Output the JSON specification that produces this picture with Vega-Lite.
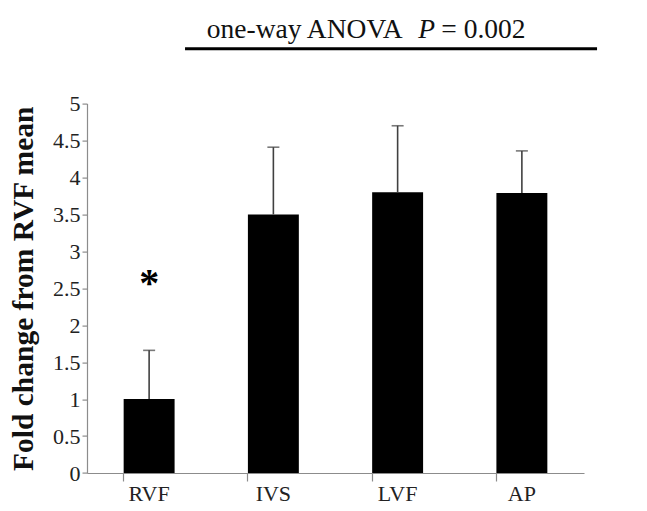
{
  "$schema": "https://vega.github.io/schema/vega-lite/v6.json",
  "autosize": "none",
  "width": 497,
  "height": 369.4,
  "padding": {"left": 87, "top": 103.6, "right": 63, "bottom": 38},
  "background": "white",
  "config": {
    "view": {"stroke": null},
    "font": "Liberation Serif",
    "axis": {"labelFont": "Liberation Serif", "titleFont": "Liberation Serif", "grid": false},
    "axisY": {
      "titleFontWeight": "bold", "titleFontSize": 29.5, "titleColor": "#111", "titlePadding": 14,
      "labelOverlap": false, "labelFontSize": 22, "labelColor": "#222", "labelPadding": 2,
      "domainColor": "#8c8c8c", "tickColor": "#8c8c8c", "tickSize": 5, "domainWidth": 1.2, "tickWidth": 1.2
    }
  },
  "datasets": {
    "regions": [
      {"region": "RVF", "mean": 1.0, "upper": 1.66, "sig": "*", "sig_y": 2.67},
      {"region": "IVS", "mean": 3.5, "upper": 4.41},
      {"region": "LVF", "mean": 3.8, "upper": 4.70},
      {"region": "AP", "mean": 3.79, "upper": 4.36}
    ],
    "anova": [
      {"start": 0.789, "end": 4.105, "line_y": 5.741, "text_y": 5.883, "left_end": 2.54, "p_start": 2.665, "eq_start": 2.852}
    ]
  },
  "layer": [
    {
      "data": {"name": "regions"},
      "layer": [
        {
          "mark": {"type": "bar", "color": "black"},
          "encoding": {
            "x": {
              "field": "region", "type": "nominal", "sort": null,
              "scale": {"paddingInner": 0.59, "paddingOuter": 0.295},
              "axis": {
                "title": null, "labelAngle": 0, "labelFontSize": 22, "labelColor": "#222",
                "domainColor": "#8c8c8c", "tickColor": "#8c8c8c", "tickSize": 8,
                "bandPosition": 0, "labelPadding": 2, "domainWidth": 1.2, "tickWidth": 1.2
              }
            },
            "y": {
              "field": "mean", "type": "quantitative",
              "scale": {"domain": [0, 5], "nice": false, "zero": true},
              "axis": {"title": "Fold change from RVF mean", "values": [0, 0.5, 1, 1.5, 2, 2.5, 3, 3.5, 4, 4.5, 5], "format": ".1~f"}
            }
          }
        },
        {
          "mark": {"type": "rule", "color": "#404040", "strokeWidth": 1.6},
          "encoding": {
            "x": {"field": "region", "type": "nominal", "sort": null},
            "y": {"field": "mean", "type": "quantitative", "axis": {"title": "Fold change from RVF mean", "values": [0, 0.5, 1, 1.5, 2, 2.5, 3, 3.5, 4, 4.5, 5], "format": ".1~f"}},
            "y2": {"field": "upper"}
          }
        },
        {
          "mark": {"type": "tick", "color": "#404040", "thickness": 1.6, "size": 12, "orient": "horizontal"},
          "encoding": {
            "x": {"field": "region", "type": "nominal", "sort": null},
            "y": {"field": "upper", "type": "quantitative", "axis": {"title": "Fold change from RVF mean", "values": [0, 0.5, 1, 1.5, 2, 2.5, 3, 3.5, 4, 4.5, 5], "format": ".1~f"}}
          }
        },
        {
          "transform": [{"filter": "datum.sig"}],
          "mark": {"type": "text", "fontSize": 40, "fontWeight": "bold", "align": "center", "baseline": "middle", "dy": 8, "color": "black", "clip": false},
          "encoding": {
            "x": {"field": "region", "type": "nominal", "sort": null},
            "y": {"field": "sig_y", "type": "quantitative", "axis": {"title": "Fold change from RVF mean", "values": [0, 0.5, 1, 1.5, 2, 2.5, 3, 3.5, 4, 4.5, 5], "format": ".1~f"}},
            "text": {"field": "sig"}
          }
        }
      ]
    },
    {
      "data": {"name": "anova"},
      "layer": [
        {
          "mark": {"type": "rule", "color": "black", "strokeWidth": 3, "clip": false},
          "encoding": {
            "x": {"field": "start", "type": "quantitative", "scale": {"domain": [0, 4], "nice": false, "zero": false}, "axis": null},
            "x2": {"field": "end"},
            "y": {"field": "line_y", "type": "quantitative", "axis": {"title": "Fold change from RVF mean", "values": [0, 0.5, 1, 1.5, 2, 2.5, 3, 3.5, 4, 4.5, 5], "format": ".1~f"}}
          }
        },
        {
          "mark": {"type": "text", "fontSize": 27.5, "align": "right", "baseline": "alphabetic", "color": "#111", "clip": false},
          "encoding": {
            "x": {"field": "left_end", "type": "quantitative", "scale": {"domain": [0, 4], "nice": false, "zero": false}, "axis": null},
            "y": {"field": "text_y", "type": "quantitative", "axis": {"title": "Fold change from RVF mean", "values": [0, 0.5, 1, 1.5, 2, 2.5, 3, 3.5, 4, 4.5, 5], "format": ".1~f"}},
            "text": {"value": "one-way ANOVA"}
          }
        },
        {
          "mark": {"type": "text", "fontSize": 27.5, "fontStyle": "italic", "align": "left", "baseline": "alphabetic", "color": "#111", "clip": false},
          "encoding": {
            "x": {"field": "p_start", "type": "quantitative", "scale": {"domain": [0, 4], "nice": false, "zero": false}, "axis": null},
            "y": {"field": "text_y", "type": "quantitative", "axis": {"title": "Fold change from RVF mean", "values": [0, 0.5, 1, 1.5, 2, 2.5, 3, 3.5, 4, 4.5, 5], "format": ".1~f"}},
            "text": {"value": "P"}
          }
        },
        {
          "mark": {"type": "text", "fontSize": 27.5, "align": "left", "baseline": "alphabetic", "color": "#111", "clip": false},
          "encoding": {
            "x": {"field": "eq_start", "type": "quantitative", "scale": {"domain": [0, 4], "nice": false, "zero": false}, "axis": null},
            "y": {"field": "text_y", "type": "quantitative", "axis": {"title": "Fold change from RVF mean", "values": [0, 0.5, 1, 1.5, 2, 2.5, 3, 3.5, 4, 4.5, 5], "format": ".1~f"}},
            "text": {"value": "= 0.002"}
          }
        }
      ]
    }
  ],
  "resolve": {"scale": {"x": "independent"}, "axis": {"x": "independent"}}
}
